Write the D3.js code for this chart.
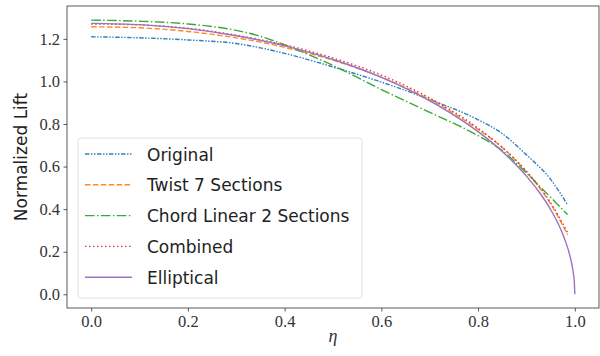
<!DOCTYPE html>
<html>
<head>
<meta charset="utf-8">
<script src="https://cdn.jsdelivr.net/npm/d3@7"></script>
<style>
  body { margin: 0; background: #fff; }
  .tick text { font-family: "Liberation Serif", serif; font-size: 16.5px; fill: #333; }
  .tick line { stroke: #333; stroke-width: 0.8; }
  .domain { display: none; }
</style>
</head>
<body>
<div id="chart"></div>
<script>
// spanwise stations (eta) and normalized lift
var etaRoot = [0, 0.1, 0.2, 0.3, 0.35, 0.4, 0.5, 0.6, 0.7, 0.8, 0.85, 0.9, 0.95, 0.985];
var original = [1.21, 1.205, 1.195, 1.178, 1.158, 1.132, 1.068, 0.997, 0.915, 0.82, 0.755, 0.655, 0.54, 0.42];
var twist7 = [1.257, 1.252, 1.235, 1.205, 1.185, 1.16, 1.10, 1.02, 0.915, 0.775, 0.69, 0.575, 0.425, 0.28];
var chordLinear = [1.288, 1.283, 1.27, 1.24, 1.212, 1.172, 1.075, 0.962, 0.855, 0.745, 0.675, 0.57, 0.455, 0.375];
var combined = [1.27, 1.266, 1.25, 1.217, 1.196, 1.172, 1.11, 1.03, 0.922, 0.78, 0.69, 0.578, 0.43, 0.29];

var etaEll = [0, 0.1, 0.2, 0.3, 0.4, 0.5, 0.6, 0.7, 0.75, 0.8, 0.85, 0.9, 0.925, 0.95, 0.97, 0.98, 0.99, 0.995, 0.999, 1.0];
var elliptical = [1.273, 1.267, 1.248, 1.215, 1.167, 1.103, 1.019, 0.909, 0.842, 0.764, 0.671, 0.555, 0.484, 0.398, 0.31, 0.253, 0.18, 0.127, 0.057, 0];

var xTicks = [0, 0.2, 0.4, 0.6, 0.8, 1.0];
var yTicks = [0, 0.2, 0.4, 0.6, 0.8, 1.0, 1.2];

var series = [
    { name: "Original", x: etaRoot, y: original, color: "#2f82bd", dash: "4.5,1.5,1.5,1.5,1.5,1.5" },
    { name: "Twist 7 Sections", x: etaRoot, y: twist7, color: "#ff8a2a", dash: "5.5,2.4" },
    { name: "Chord Linear 2 Sections", x: etaRoot, y: chordLinear, color: "#3aa83a", dash: "9.6,2.4,1.5,2.4" },
    { name: "Combined", x: etaRoot, y: combined, color: "#d83a3a", dash: "1.5,2.5" },
    { name: "Elliptical", x: etaEll, y: elliptical, color: "#9a72c2", dash: null }
];

var W = 600, H = 356;
var plot = { left: 67, right: 599, top: 6, bottom: 308 };

var svg = d3.select("#chart").append("svg")
    .attr("width", W)
    .attr("height", H);

var xScale = d3.scaleLinear().domain([-0.05, 1.05]).range([plot.left, plot.right]);
var yScale = d3.scaleLinear().domain([-0.0645, 1.3545]).range([plot.bottom, plot.top]);

svg.append("g")
    .attr("transform", "translate(0," + plot.bottom + ")")
    .call(d3.axisBottom(xScale).tickValues(xTicks).tickFormat(d3.format(".1f")).tickSize(3.5).tickPadding(3.5));

svg.append("g")
    .attr("transform", "translate(" + plot.left + ",0)")
    .call(d3.axisLeft(yScale).tickValues(yTicks).tickFormat(d3.format(".1f")).tickSize(3.5).tickPadding(3.5));

var line = d3.line()
    .x(d => xScale(d[0]))
    .y(d => yScale(d[1]))
    .curve(d3.curveMonotoneX);

svg.append("g").selectAll("path")
    .data(series).enter()
    .append("path")
    .attr("d", s => line(s.x.map((v, i) => [v, s.y[i]])))
    .attr("fill", "none")
    .attr("stroke", s => s.color)
    .attr("stroke-width", 1.4)
    .attr("stroke-dasharray", s => s.dash);

// frame
svg.append("rect")
    .attr("x", plot.left)
    .attr("y", plot.top)
    .attr("width", plot.right - plot.left)
    .attr("height", plot.bottom - plot.top)
    .attr("fill", "none")
    .attr("stroke", "#333")
    .attr("stroke-width", 0.8);

// axis labels
svg.append("text")
    .attr("x", (plot.left + plot.right) / 2)
    .attr("y", 342)
    .attr("text-anchor", "middle")
    .style("font-family", "'Liberation Serif', serif")
    .style("font-style", "italic")
    .style("font-size", "18px")
    .style("fill", "#333")
    .text("η");

svg.append("text")
    .attr("transform", "translate(27," + (plot.top + plot.bottom) / 2 + ") rotate(-90)")
    .attr("text-anchor", "middle")
    .style("font-family", "'DejaVu Sans', sans-serif")
    .style("font-size", "17px")
    .style("fill", "#222")
    .text("Normalized Lift");

// legend
var legend = svg.append("g");
legend.append("rect")
    .attr("x", 78)
    .attr("y", 138)
    .attr("width", 284)
    .attr("height", 160)
    .attr("rx", 3)
    .attr("fill", "#fff")
    .attr("fill-opacity", 0.8)
    .attr("stroke", "#d8d8d8")
    .attr("stroke-width", 0.8);

var rows = legend.selectAll(".legend-row")
    .data(series).enter()
    .append("g")
    .attr("class", "legend-row")
    .attr("transform", (d, i) => "translate(0," + (154 + i * 30.8) + ")");

rows.append("line")
    .attr("x1", 85)
    .attr("x2", 132)
    .attr("stroke", d => d.color)
    .attr("stroke-width", 1.4)
    .attr("stroke-dasharray", d => d.dash);

rows.append("text")
    .attr("x", 147)
    .attr("y", 6.5)
    .style("font-family", "'DejaVu Sans', sans-serif")
    .style("font-size", "17px")
    .style("fill", "#222")
    .text(d => d.name);
</script>
</body>
</html>
